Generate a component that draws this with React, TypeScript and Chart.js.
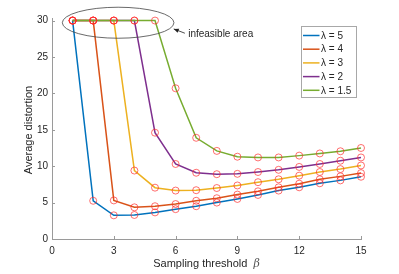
import { useEffect, useRef } from 'react';
import { Chart, registerables } from 'chart.js';

Chart.register(...registerables);

const FONT = '"Liberation Sans", Arial, Helvetica, sans-serif';

// Sampling threshold β (x)
const betaValues = [1, 2, 3, 4, 5, 6, 7, 8, 9, 10, 11, 12, 13, 14, 15];

// Average distortion for each λ
const lambda5 = [30, 5.25, 3.25, 3.3, 3.65, 4.1, 4.5, 5.0, 5.5, 6.05, 6.65, 7.1, 7.65, 8.05, 8.55];
const lambda4 = [30, 30, 5.3, 4.35, 4.5, 4.8, 5.25, 5.6, 6.1, 6.55, 7.1, 7.6, 8.2, 8.6, 9.05];
const lambda3 = [30, 30, 30, 9.4, 7.05, 6.65, 6.7, 7.0, 7.35, 7.8, 8.2, 8.7, 9.2, 9.6, 10.1];
const lambda2 = [30, 30, 30, 30, 14.6, 10.3, 9.1, 8.9, 8.95, 9.2, 9.5, 9.9, 10.3, 10.75, 11.2];
const lambda15 = [30, 30, 30, 30, 30, 20.7, 13.9, 12.1, 11.3, 11.2, 11.2, 11.45, 11.75, 12.05, 12.5];

const seriesLabels = ['λ = 5', 'λ = 4', 'λ = 3', 'λ = 2', 'λ = 1.5'];
const seriesValues = [lambda5, lambda4, lambda3, lambda2, lambda15];
const seriesColors = ['#0072BD', '#D95319', '#EDB120', '#7E2F8E', '#77AC30'];

const xTicks = [0, 3, 6, 9, 12, 15];
const yTicks = [0, 5, 10, 15, 20, 25, 30];

const xTitle = 'Sampling threshold';
const xTitleSymbol = 'β';
const yTitle = 'Average distortion';
const annotationText = 'infeasible area';

const AXIS_COLOR = '#9a9a9a';
const TEXT_COLOR = '#262626';
const MARKER_COLOR = 'rgba(255,40,40,0.75)';

const overlayPlugin = {
  id: 'overlay',
  afterDraw(chart: any) {
    const { ctx, chartArea } = chart;
    const xs = chart.scales.x;
    const ys = chart.scales.y;
    ctx.save();

    // inward tick marks
    ctx.strokeStyle = AXIS_COLOR;
    ctx.lineWidth = 1;
    ctx.beginPath();
    xTicks.forEach((t) => {
      const px = Math.round(xs.getPixelForValue(t)) + 0.5;
      ctx.moveTo(px, chartArea.bottom);
      ctx.lineTo(px, chartArea.bottom - 3);
    });
    yTicks.forEach((t) => {
      const py = Math.round(ys.getPixelForValue(t)) + 0.5;
      ctx.moveTo(chartArea.left, py);
      ctx.lineTo(chartArea.left + 3, py);
    });
    ctx.stroke();

    // ellipse around infeasible region
    const cx = xs.getPixelForValue(3.21);
    const cy = ys.getPixelForValue(29.7);
    const rx = xs.getPixelForValue(3.21 + 2.71) - cx;
    const ry = cy - ys.getPixelForValue(29.7 + 2.13);
    ctx.strokeStyle = '#444444';
    ctx.lineWidth = 0.8;
    ctx.beginPath();
    ctx.ellipse(cx, cy, rx, ry, 0, 0, Math.PI * 2);
    ctx.stroke();

    // arrow
    const tipX = xs.getPixelForValue(5.91);
    const tipY = ys.getPixelForValue(28.85);
    const tailX = xs.getPixelForValue(6.45);
    const tailY = ys.getPixelForValue(28.26);
    const ang = Math.atan2(tipY - tailY, tipX - tailX);
    ctx.strokeStyle = '#222222';
    ctx.fillStyle = '#222222';
    ctx.lineWidth = 0.8;
    ctx.beginPath();
    ctx.moveTo(tailX, tailY);
    ctx.lineTo(tipX, tipY);
    ctx.stroke();
    const hl = 5;
    const hw = 2.2;
    ctx.beginPath();
    ctx.moveTo(tipX, tipY);
    ctx.lineTo(
      tipX - hl * Math.cos(ang) + hw * Math.sin(ang),
      tipY - hl * Math.sin(ang) - hw * Math.cos(ang)
    );
    ctx.lineTo(
      tipX - hl * Math.cos(ang) - hw * Math.sin(ang),
      tipY - hl * Math.sin(ang) + hw * Math.cos(ang)
    );
    ctx.closePath();
    ctx.fill();

    // annotation text
    ctx.fillStyle = TEXT_COLOR;
    ctx.font = `10px ${FONT}`;
    ctx.textAlign = 'left';
    ctx.textBaseline = 'middle';
    ctx.fillText(annotationText, xs.getPixelForValue(6.61), ys.getPixelForValue(28.12));

    // legend
    const lgRight = chartArea.right - 5;
    const lgLeft = lgRight - 55;
    const lgTop = chartArea.top + 8;
    const lgH = 71;
    ctx.fillStyle = '#ffffff';
    ctx.fillRect(lgLeft, lgTop, 55, lgH);
    ctx.strokeStyle = '#a8a8a8';
    ctx.lineWidth = 1;
    ctx.strokeRect(Math.round(lgLeft) + 0.5, Math.round(lgTop) + 0.5, 55, lgH);
    seriesLabels.forEach((lab, i) => {
      const yy = lgTop + 9.5 + i * 13.7;
      ctx.strokeStyle = seriesColors[i];
      ctx.lineWidth = 1.5;
      ctx.beginPath();
      ctx.moveTo(lgLeft + 2, yy);
      ctx.lineTo(lgLeft + 18.5, yy);
      ctx.stroke();
      ctx.fillStyle = TEXT_COLOR;
      ctx.font = `10px ${FONT}`;
      ctx.textAlign = 'left';
      ctx.textBaseline = 'middle';
      ctx.fillText(lab, lgLeft + 20, yy + 0.5);
    });

    // x title
    ctx.font = `11px ${FONT}`;
    const wMain = ctx.measureText(xTitle).width;
    ctx.font = `italic 11px "DejaVu Serif", serif`;
    const wSym = ctx.measureText(xTitleSymbol).width;
    const gap = 6;
    const total = wMain + gap + wSym;
    const xc = (chartArea.left + chartArea.right) / 2;
    const startX = xc - total / 2;
    const tY = 264;
    ctx.fillStyle = TEXT_COLOR;
    ctx.textBaseline = 'middle';
    ctx.textAlign = 'left';
    ctx.font = `11px ${FONT}`;
    ctx.fillText(xTitle, startX, tY);
    ctx.font = `italic 11px "DejaVu Serif", serif`;
    ctx.fillStyle = '#555555';
    ctx.fillText(xTitleSymbol, startX + wMain + gap, tY);

    // y title
    ctx.fillStyle = TEXT_COLOR;
    ctx.font = `11px ${FONT}`;
    ctx.translate(29, 130);
    ctx.rotate(-Math.PI / 2);
    ctx.textAlign = 'center';
    ctx.textBaseline = 'middle';
    ctx.fillText(yTitle, 0, 0);

    ctx.restore();
  },
};

export default function App() {
  const canvasRef = useRef<HTMLCanvasElement | null>(null);

  useEffect(() => {
    if (!canvasRef.current) return;
    Chart.defaults.font.family = FONT;

    const lineSets = seriesValues.map((vals, i) => ({
      label: seriesLabels[i],
      data: betaValues.map((b, j) => ({ x: b, y: vals[j] })),
      borderColor: seriesColors[i],
      backgroundColor: seriesColors[i],
      borderWidth: 1.5,
      pointRadius: 0,
      tension: 0,
      fill: false,
      order: 5 - i,
      clip: false as any,
    }));
    const markerSets = seriesValues.map((vals, i) => ({
      label: seriesLabels[i] + ' markers',
      data: betaValues.map((b, j) => ({ x: b, y: vals[j] })),
      showLine: false,
      pointRadius: 3.5,
      pointHoverRadius: 3.5,
      pointBorderColor: MARKER_COLOR,
      pointBackgroundColor: 'rgba(0,0,0,0)',
      pointBorderWidth: 0.9,
      borderColor: MARKER_COLOR,
      order: 0,
      clip: false as any,
    }));

    const chart = new Chart(canvasRef.current, {
      type: 'line',
      data: { datasets: [...lineSets, ...markerSets] as any },
      options: {
        animation: false,
        responsive: false,
        maintainAspectRatio: false,
        events: [],
        layout: { padding: { left: 0, right: 38, top: 18, bottom: 0 } },
        plugins: {
          legend: { display: false },
          tooltip: { enabled: false },
        },
        scales: {
          x: {
            type: 'linear',
            min: 0,
            max: 15,
            afterBuildTicks: (scale: any) => {
              scale.ticks = xTicks.map((v) => ({ value: v }));
            },
            afterFit: (scale: any) => {
              scale.height = 35;
            },
            grid: { display: false, drawTicks: false },
            border: { display: true, color: AXIS_COLOR, width: 1 },
            ticks: {
              color: TEXT_COLOR,
              font: { size: 10, family: FONT },
              padding: 6,
              maxRotation: 0,
              autoSkip: false,
            },
          },
          y: {
            type: 'linear',
            min: 0,
            max: 30.35,
            afterBuildTicks: (scale: any) => {
              scale.ticks = yTicks.map((v) => ({ value: v }));
            },
            afterFit: (scale: any) => {
              scale.width = 52;
            },
            grid: { display: false, drawTicks: false },
            border: { display: true, color: AXIS_COLOR, width: 1 },
            ticks: {
              color: TEXT_COLOR,
              font: { size: 10, family: FONT },
              padding: 4,
              autoSkip: false,
            },
          },
        },
      },
      plugins: [overlayPlugin],
    });

    return () => {
      chart.destroy();
    };
  }, []);

  return (
    <div style={{ position: 'absolute', left: 0, top: 0, width: 399, height: 274, background: '#ffffff' }}>
      <canvas ref={canvasRef} width={399} height={274} style={{ width: 399, height: 274 }} />
    </div>
  );
}
